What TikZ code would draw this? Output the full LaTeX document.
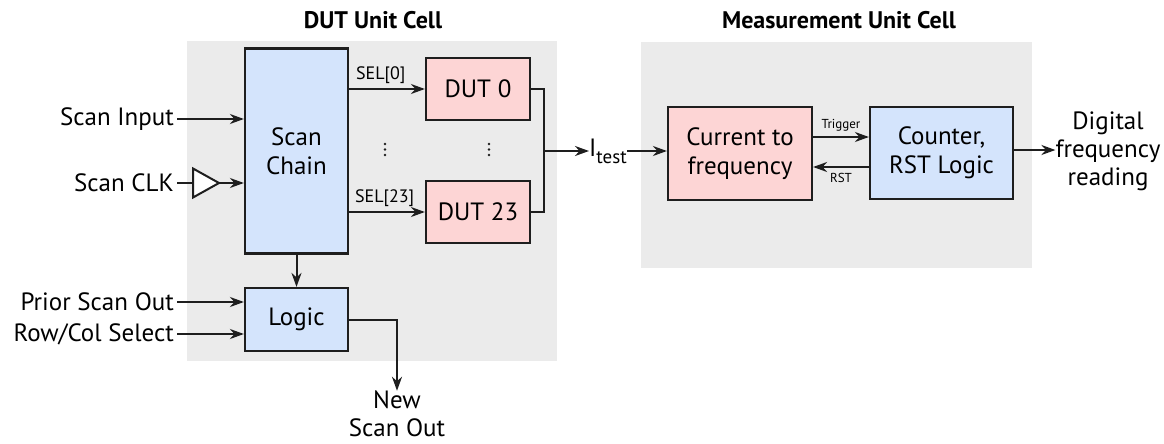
\documentclass[tikz,border=0pt]{standalone}
\usepackage{fontspec}
\setmainfont{PT Sans}
\usetikzlibrary{arrows.meta}

\definecolor{panelgray}{HTML}{EBEBEB}
\definecolor{blockblue}{HTML}{D4E4FC}
\definecolor{blockpink}{HTML}{FDD5D5}
\definecolor{ink}{HTML}{1E1E1E}

\tikzset{
  panel/.style={fill=panelgray, draw=none},
  block/.style={draw=ink, line width=2.2pt, inner sep=0pt, align=center,
    font=\fontsize{25}{29}\selectfont},
  blueblock/.style={block, fill=blockblue},
  pinkblock/.style={block, fill=blockpink},
  wire/.style={draw=ink, line width=2pt},
  sig/.style={wire, -{Stealth[length=14pt,width=10pt,inset=4.5pt]}},
  lbl/.style={font=\fontsize{25}{28}\selectfont, inner sep=0pt, align=center},
  small/.style={font=\fontsize{18}{20}\selectfont, inner sep=0pt},
  tiny/.style={font=\fontsize{13}{15}\selectfont, inner sep=0pt},
  title/.style={font=\fontsize{24}{26}\selectfont\bfseries, inner sep=0pt},
  dotmark/.style={fill=ink, draw=none},
}

\begin{document}
\begin{tikzpicture}[x=1pt, y=-1pt]
\useasboundingbox (0,0) rectangle (1164,444);

% cell backgrounds
\fill[panel] (187,41) rectangle (557,361);
\fill[panel] (641,42) rectangle (1032,268);

% titles
\node[title] (tdut)  at (373,20) {DUT Unit Cell};
\node[title] (tmeas) at (839,20) {Measurement Unit Cell};

% DUT unit cell blocks
\node[blueblock, minimum width=103pt, minimum height=205pt] (scan) at (296.5,151) {Scan\\Chain};
\node[blueblock, minimum width=103pt, minimum height=63pt] (logic) at (296.5,319.5) {Logic};
\node[pinkblock, minimum width=104pt, minimum height=62pt] (dut0) at (478,89) {DUT 0};
\node[pinkblock, minimum width=104pt, minimum height=62pt] (dut23) at (478,212) {DUT 23};

% vertical ellipses between the first and last select line / DUT
\foreach \x in {385,489}{
  \foreach \y in {144,149.5,155}{
    \fill[dotmark] (\x,\y) circle (1.4pt);
  }
}

% measurement unit cell blocks
\node[pinkblock, minimum width=144pt, minimum height=93pt] (c2f) at (740,153.5) {Current to\\frequency};
\node[blueblock, minimum width=143pt, minimum height=92pt] (cnt) at (941.5,153) {Counter,\\RST Logic};

% external inputs
\node[lbl, anchor=east] (sin)  at (174,119) {Scan Input};
\node[lbl, anchor=east] (sclk) at (174,183) {Scan CLK};
\node[lbl, anchor=east] (pso)  at (174,302) {Prior Scan Out};
\node[lbl, anchor=east] (rcs)  at (174,334) {Row/Col Select};

\coordinate (sinE)  at (177,119);
\coordinate (sclkE) at (177,183);
\coordinate (psoE)  at (177,302);
\coordinate (rcsE)  at (177,334);

% clock buffer
\coordinate (bufin)  at (193,183);
\coordinate (bufout) at (219,183);
\draw[wire, fill=white, line join=miter] (193,168.5) -- (219,183) -- (193,197.5) -- cycle;

\draw[sig] (sinE) -- (scan.west |- sinE);
\draw[wire] (sclkE) -- (bufin);
\draw[sig] (bufout) -- (scan.west |- bufout);
\draw[sig] (psoE) -- (logic.west |- psoE);
\draw[sig] (rcsE) -- (logic.west |- rcsE);
\draw[sig] (scan.south) -- (logic.north);

% select lines
\draw[sig] (scan.east |- dut0.west) -- node[small, pos=0.0, anchor=south west, yshift=4pt, xshift=6pt] (sel0) {SEL[0]} (dut0.west);
\draw[sig] (scan.east |- dut23.west) -- node[small, pos=0.0, anchor=south west, yshift=4pt, xshift=5pt] (sel23) {SEL[23]} (dut23.west);

% DUT outputs joined onto the test current line
\coordinate (join) at (544,151);
\draw[wire] (dut0.east) -| (join) |- (dut23.east);
\node[lbl, anchor=west] (itest) at (589,151) {I\raisebox{-7pt}{\fontsize{19}{19}\selectfont test}};
\draw[sig] (join) -- (itest.west);
\coordinate (itE) at (itest.east |- join);
\draw[sig] (itE) -- (c2f.west |- itE);

% trigger / reset handshake
\coordinate (trg) at (0,137);
\coordinate (rst) at (0,167);
\draw[sig] (c2f.east |- trg) -- node[tiny, above=5pt] (ltrg) {Trigger} (cnt.west |- trg);
\draw[sig] (cnt.west |- rst) -- node[tiny, below=5pt] (lrst) {RST} (c2f.east |- rst);

% measurement output
\node[lbl] (dfr) at (1108,151) {Digital\\frequency\\reading};
\draw[sig] (cnt.east |- 0,150) -- (dfr.west |- 0,150);

% new scan out
\node[lbl] (nso) at (397,414) {New\\Scan Out};
\coordinate (bend) at (397,319.5);
\draw[sig] (logic.east) -- (bend) -- (nso.north);
\end{tikzpicture}
\end{document}
